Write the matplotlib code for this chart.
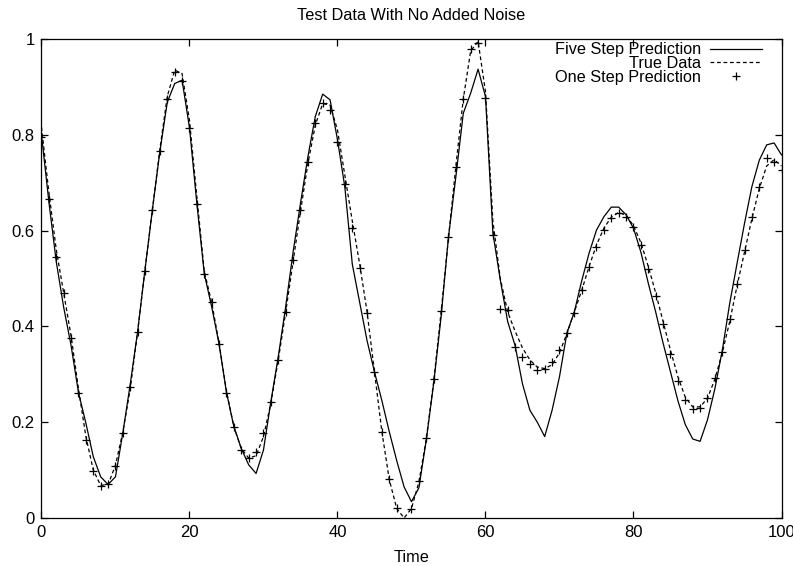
import matplotlib
matplotlib.use('Agg')
import matplotlib.pyplot as plt
from matplotlib.ticker import FuncFormatter

plt.rcParams['font.family'] = ['Liberation Sans', 'DejaVu Sans']

# time axis, one sample per step
time = list(range(0, 101))

# five step ahead prediction
five_step = [0.80, 0.66, 0.535, 0.44, 0.36, 0.262, 0.198, 0.128, 0.086, 0.07,
             0.086, 0.178, 0.28, 0.39, 0.52, 0.645, 0.765, 0.868, 0.907, 0.914,
             0.815, 0.656, 0.51, 0.441, 0.363, 0.262, 0.191, 0.145, 0.111, 0.093,
             0.142, 0.243, 0.337, 0.441, 0.555, 0.657, 0.754, 0.838, 0.885, 0.873,
             0.79, 0.69, 0.53, 0.45, 0.37, 0.305, 0.245, 0.18, 0.12, 0.065,
             0.034, 0.063, 0.163, 0.281, 0.42, 0.587, 0.713, 0.845, 0.887, 0.937,
             0.88, 0.595, 0.497, 0.41, 0.36, 0.28, 0.225, 0.2, 0.17, 0.225,
             0.295, 0.386, 0.43, 0.495, 0.553, 0.601, 0.629, 0.649, 0.649, 0.633,
             0.605, 0.555, 0.49, 0.43, 0.365, 0.305, 0.245, 0.195, 0.165, 0.16,
             0.205, 0.27, 0.35, 0.448, 0.532, 0.615, 0.692, 0.747, 0.779, 0.783,
             0.758]

# actual series
true_data = [0.816, 0.68, 0.56, 0.47, 0.38, 0.27, 0.17, 0.10, 0.068, 0.07,
             0.11, 0.18, 0.27, 0.39, 0.52, 0.645, 0.77, 0.88, 0.935, 0.928,
             0.83, 0.67, 0.515, 0.45, 0.365, 0.265, 0.19, 0.145, 0.125, 0.13,
             0.17, 0.24, 0.33, 0.43, 0.535, 0.64, 0.74, 0.82, 0.865, 0.862,
             0.81, 0.715, 0.62, 0.53, 0.43, 0.305, 0.18, 0.08, 0.02, 0.0,
             0.02, 0.075, 0.165, 0.285, 0.43, 0.585, 0.735, 0.875, 0.975, 0.995,
             0.89, 0.62, 0.50, 0.43, 0.39, 0.355, 0.33, 0.315, 0.312, 0.32,
             0.345, 0.385, 0.43, 0.475, 0.525, 0.57, 0.605, 0.628, 0.638, 0.632,
             0.61, 0.575, 0.525, 0.47, 0.41, 0.35, 0.295, 0.252, 0.232, 0.232,
             0.25, 0.29, 0.345, 0.41, 0.485, 0.555, 0.625, 0.688, 0.735, 0.748,
             0.735]

# one step ahead prediction (t=49 falls below the axis)
one_step = [0.796, 0.667, 0.544, 0.469, 0.375, 0.262, 0.163, 0.098, 0.067, 0.07,
            0.109, 0.178, 0.273, 0.389, 0.516, 0.643, 0.766, 0.875, 0.932, 0.912,
            0.815, 0.656, 0.51, 0.45, 0.363, 0.262, 0.191, 0.143, 0.126, 0.138,
            0.177, 0.243, 0.33, 0.431, 0.539, 0.643, 0.744, 0.824, 0.867, 0.852,
            0.786, 0.697, 0.605, 0.521, 0.427, 0.305, 0.18, 0.081, 0.02, -0.03,
            0.018, 0.078, 0.168, 0.29, 0.432, 0.586, 0.733, 0.875, 0.98, 0.991,
            0.877, 0.591, 0.436, 0.434, 0.358, 0.337, 0.322, 0.309, 0.311, 0.325,
            0.351, 0.387, 0.429, 0.475, 0.523, 0.566, 0.601, 0.626, 0.636, 0.629,
            0.607, 0.569, 0.52, 0.464, 0.404, 0.342, 0.287, 0.246, 0.228, 0.229,
            0.25, 0.292, 0.347, 0.415, 0.489, 0.56, 0.629, 0.69, 0.751, 0.744,
            0.727]

fig = plt.figure(figsize=(7.93, 5.66), dpi=100)
ax = fig.add_axes([0.0523, 0.0848, 0.9332, 0.8463])

ax.plot(time, five_step, '-', color='black', lw=0.9, label='Five Step Prediction')
ax.plot(time, true_data, color='black', lw=0.9, linestyle=(0, (3, 2.2)), label='True Data')
ax.plot(time, one_step, '+', color='black', ms=6, mew=0.9, linestyle='none',
        label='One Step Prediction')

ax.set_xlim(0, 100)
ax.set_ylim(0, 1)
ax.set_xticks([0, 20, 40, 60, 80, 100])
ax.set_yticks([0, 0.2, 0.4, 0.6, 0.8, 1.0])
ax.yaxis.set_major_formatter(FuncFormatter(lambda v, p: '%g' % v))
ax.tick_params(direction='in', length=5, width=0.9, top=True, right=True,
               labelsize=12, colors='black', pad=5)
for s in ax.spines.values():
    s.set_linewidth(0.9)

ax.set_title('Test Data With No Added Noise', fontsize=11.7, pad=14)
ax.set_xlabel('Time', fontsize=11.7, labelpad=7)

leg = ax.legend(loc='upper right', frameon=False, markerfirst=False, fontsize=11.7,
                handlelength=3.2, handletextpad=0.55, labelspacing=-0.08,
                borderaxespad=0.0, borderpad=0.2, bbox_to_anchor=(0.978, 1.0))

fig.savefig('out.png', dpi=100)
